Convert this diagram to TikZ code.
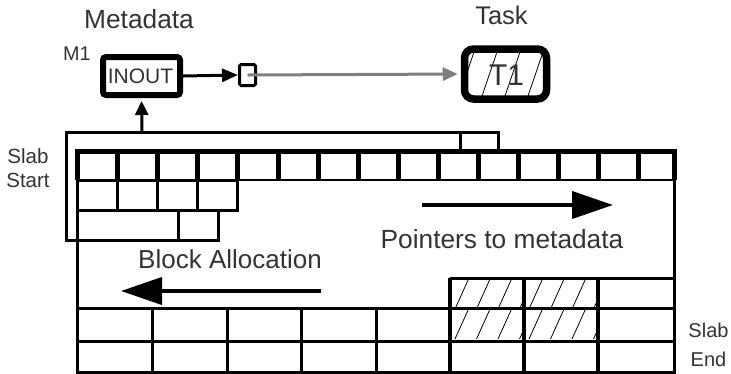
\documentclass[tikz,border=0pt]{standalone}
\usepackage{fontspec}
\setmainfont{Liberation Sans}
\usetikzlibrary{arrows.meta}
\definecolor{txt}{HTML}{333333}
\definecolor{ptr}{HTML}{7F7F7F}
\begin{document}
\begin{tikzpicture}[x=1pt,y=-1pt,
  lbl/.style={text=txt,inner sep=0pt,anchor=base},
  fsz/.style={font=\fontsize{#1}{#1}\selectfont},
  gridline/.style={line width=3pt},
  thickline/.style={line width=5pt},
  hatchline/.style={line width=0.8pt},
  bigarrow/.style={line width=4pt,-{Triangle[length=41pt,width=27pt]}}
]
\useasboundingbox (0,0) rectangle (731,373);

% ---------- labels ----------
\node[lbl,fsz=26.3] (metalbl) at (139,28) {Metadata};
\node[lbl,fsz=25.5] (tasklbl) at (501.5,24) {Task};
\node[lbl,fsz=19.8] (m1) at (77,60) {M1};
\node[lbl,fsz=20.5] (slabA) at (28,163) {Slab};
\node[lbl,fsz=20.5] (slabB) at (28,187) {Start};
\node[lbl,fsz=20] (slabC) at (708.5,337) {Slab};
\node[lbl,fsz=20] (slabD) at (708.5,366) {End};
\node[lbl,fsz=26.3] (ptrlbl) at (502,248) {Pointers to metadata};
\node[lbl,fsz=26] (alloclbl) at (230,268) {Block Allocation};

% ---------- metadata box ----------
\node[draw,line width=6pt,rounded corners=3pt,minimum width=77pt,minimum height=38pt,inner sep=0pt] (inout) at (141.5,76) {};
\node[lbl,fsz=21] (inouttxt) at (140.5,83) {INOUT};

% small pointer box
\node[draw,line width=3pt,rounded corners=1.5pt,minimum width=16pt,minimum height=21pt,inner sep=0pt] (ptrbox) at (247.5,75) {};

% ---------- task box ----------
\begin{scope}
  \clip (465,49) rectangle (547,99);
  \foreach \k in {-30,-7,...,100} {
    \draw[hatchline] (465+\k,99) -- (465+\k+17,49);
  }
\end{scope}
\node[draw,line width=7.5pt,rounded corners=9pt,minimum width=82pt,minimum height=50pt,inner sep=0pt] (task) at (505.5,74) {};
\node[lbl,fsz=30] (t1) at (506.5,85) {T1};

% ---------- connectors ----------
\draw[line width=3pt,-{Triangle[length=16pt,width=13pt]},shorten >=0pt] (inout.east) -- (ptrbox.west);
\draw[ptr,line width=3pt,-{Triangle[length=15pt,width=13pt]},shorten >=3pt] (ptrbox.center) -- (task.west);
\coordinate (brk) at (142,132);
\draw[line width=3pt,-{Triangle[length=14pt,width=13pt]},shorten >=3pt] (brk) -- (inout.south);

% ---------- slab ----------
% main outline
\draw[gridline] (77,375) -- (77,151.5) -- (674,151.5) -- (674,375);
% top row: thick frame and separators
\draw[thickline] (77,180) -- (77,151.5) -- (674,151.5) -- (674,180);
\foreach \i in {1,...,14} {
  \draw[thickline] ({77.5+40.1*\i},151.5) -- ({77.5+40.1*\i},179);
}
\draw[line width=2pt] (77,179.5) -- (674,179.5);
% second row
\foreach \i in {0,...,3} {
  \draw[gridline] ({77+40*\i},180) rectangle ++(40,30);
}
% third row
\draw[gridline] (77,210) rectangle (178,240);
\draw[gridline] (178,210) rectangle (218,240);
% bracket
\draw[gridline] (77,240) -- (66,240) -- (66,132) -- (498,132) -- (498,150);
\draw[gridline] (460,132) -- (460,150);

% bottom grid: hatching
\foreach \cx/\cy in {450/278,524/278,450/308,524/308} {
  \begin{scope}
    \clip (\cx,\cy) rectangle ++(74,31);
    \foreach \k in {-38,-16.5,...,80} {
      \draw[hatchline] ({\cx+\k},{\cy+31}) -- ({\cx+\k+14},\cy);
    }
  \end{scope}
}
% bottom grid lines
\draw[gridline] (450,278) -- (674,278);
\draw[gridline] (77,308) -- (674,308);
\draw[gridline] (77,341) -- (674,341);
\draw[gridline] (77,372) -- (674,372);
\foreach \x in {152,227,301,376} {
  \draw[gridline] (\x,308) -- (\x,375);
}
\foreach \x in {450,524,598} {
  \draw[line width=3.5pt] (\x,278) -- (\x,375);
}

% ---------- big arrows ----------
\coordinate (pa) at (422,205);
\coordinate (pb) at (613,205);
\draw[bigarrow] (pa) -- (pb);
\coordinate (aa) at (321,291);
\coordinate (ab) at (121,291);
\draw[bigarrow] (aa) -- (ab);
\end{tikzpicture}
\end{document}
